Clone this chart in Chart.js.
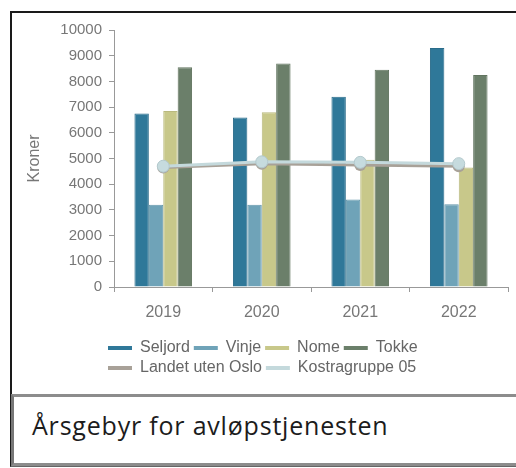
<!DOCTYPE html>
<html><head><meta charset="utf-8">
<script src="https://cdn.jsdelivr.net/npm/chart.js@4.4.1/dist/chart.umd.min.js"></script>
<style>
html,body{margin:0;padding:0;background:#fff;width:516px;height:468px;overflow:hidden;}
#frame{position:absolute;left:10px;top:11px;width:520px;height:452px;border-left:2px solid #1a1a1a;border-top:2px solid #1a1a1a;border-bottom:2px solid #666;}
#cap{position:absolute;left:11px;top:394px;width:520px;height:66px;border-top:3px solid #8c8c8c;border-bottom:3px solid #8c8c8c;border-left:3px solid #777;font-family:'Open Sans',Lato,sans-serif;font-size:25px;letter-spacing:0.8px;color:#1c1c1c;}
#cap span{position:absolute;left:18px;top:11px;white-space:nowrap;}
#wrap{position:absolute;left:0;top:0;width:516px;height:394px;}
</style></head>
<body>
<div id="frame"></div>
<div id="wrap"><canvas id="c" width="516" height="394"></canvas></div>
<div id="cap"><span>Årsgebyr for avløpstjenesten</span></div>
<script>
const categories = ['2019', '2020', '2021', '2022'];
const seljord = [6750, 6600, 7400, 9300];
const vinje = [3200, 3200, 3400, 3220];
const nome = [6850, 6800, 4950, 4650];
const tokke = [8550, 8700, 8450, 8250];
const landetUtenOslo = [4650, 4800, 4750, 4700];
const kostragruppe05 = [4700, 4870, 4850, 4800];
const yAxisTitle = 'Kroner';

Chart.defaults.font.family = "'Liberation Sans', Arial, sans-serif";
Chart.defaults.color = '#777';

const legendShift = {
  id: 'legendShift',
  afterLayout(chart) {
    if (chart.legend) { chart.legend.left -= 10; chart.legend.right -= 10; }
  }
};

function bar(label, data, color, border) {
  return { type: 'bar', label, data, backgroundColor: color, borderColor: border, borderWidth: 1,
    categoryPercentage: 0.585, barPercentage: 1, order: 3 };
}

new Chart(document.getElementById('c'), {
  type: 'bar',
  data: {
    labels: categories,
    datasets: [
      bar('Seljord', seljord, '#2f7899', '#2a6c8a'),
      bar('Vinje', vinje, '#6fa3b8', '#6396aa'),
      bar('Nome', nome, '#c8c88a', '#b9b97e'),
      bar('Tokke', tokke, '#6b7f6a', '#61745f'),
      { type: 'line', label: 'Landet uten Oslo', data: landetUtenOslo, borderColor: '#a8a198', backgroundColor: '#a8a198',
        borderWidth: 3, pointRadius: 6, pointBackgroundColor: '#a8a198', pointBorderWidth: 0, tension: 0, order: 2 },
      { type: 'line', label: 'Kostragruppe 05', data: kostragruppe05, borderColor: '#c4d9dc', backgroundColor: '#c4d9dc',
        borderWidth: 3, pointRadius: 6, pointBackgroundColor: '#c6dbde', pointBorderColor: '#b3c9cd', pointBorderWidth: 1, tension: 0, order: 1 }
    ]
  },
  options: {
    responsive: false,
    animation: false,
    layout: { padding: { left: 0, right: 8, top: 30, bottom: 8 } },
    plugins: {
      tooltip: { enabled: false },
      legend: {
        position: 'bottom', align: 'start', fullSize: false,
        labels: {
          boxWidth: 24, boxHeight: 4, padding: 4, color: '#666', font: { size: 16 },
          sort: (a, b) => a.datasetIndex - b.datasetIndex,
          generateLabels(chart) {
            return Chart.defaults.plugins.legend.labels.generateLabels(chart).map(l => Object.assign(l, { lineWidth: 0 }));
          }
        }
      }
    },
    scales: {
      x: {
        offset: true,
        grid: { offset: true, drawOnChartArea: false, drawTicks: true, tickLength: 5, color: '#999' },
        border: { display: true, color: '#999' },
        ticks: { color: '#777', font: { size: 16 }, padding: 11 },
        afterFit(s) { s.height = 49; }
      },
      y: {
        min: 0, max: 10000,
        ticks: { stepSize: 1000, color: '#777', font: { size: 15 }, padding: 7, callback: v => String(v) },
        grid: { drawOnChartArea: false, drawTicks: true, tickLength: 5, color: '#999' },
        border: { display: true, color: '#999' },
        title: { display: true, text: yAxisTitle, color: '#777', font: { size: 16 }, padding: { top: 25, bottom: 0 } },
        afterFit(s) { s.width = 114; }
      }
    }
  },
  plugins: [legendShift]
});
</script>
</body></html>
